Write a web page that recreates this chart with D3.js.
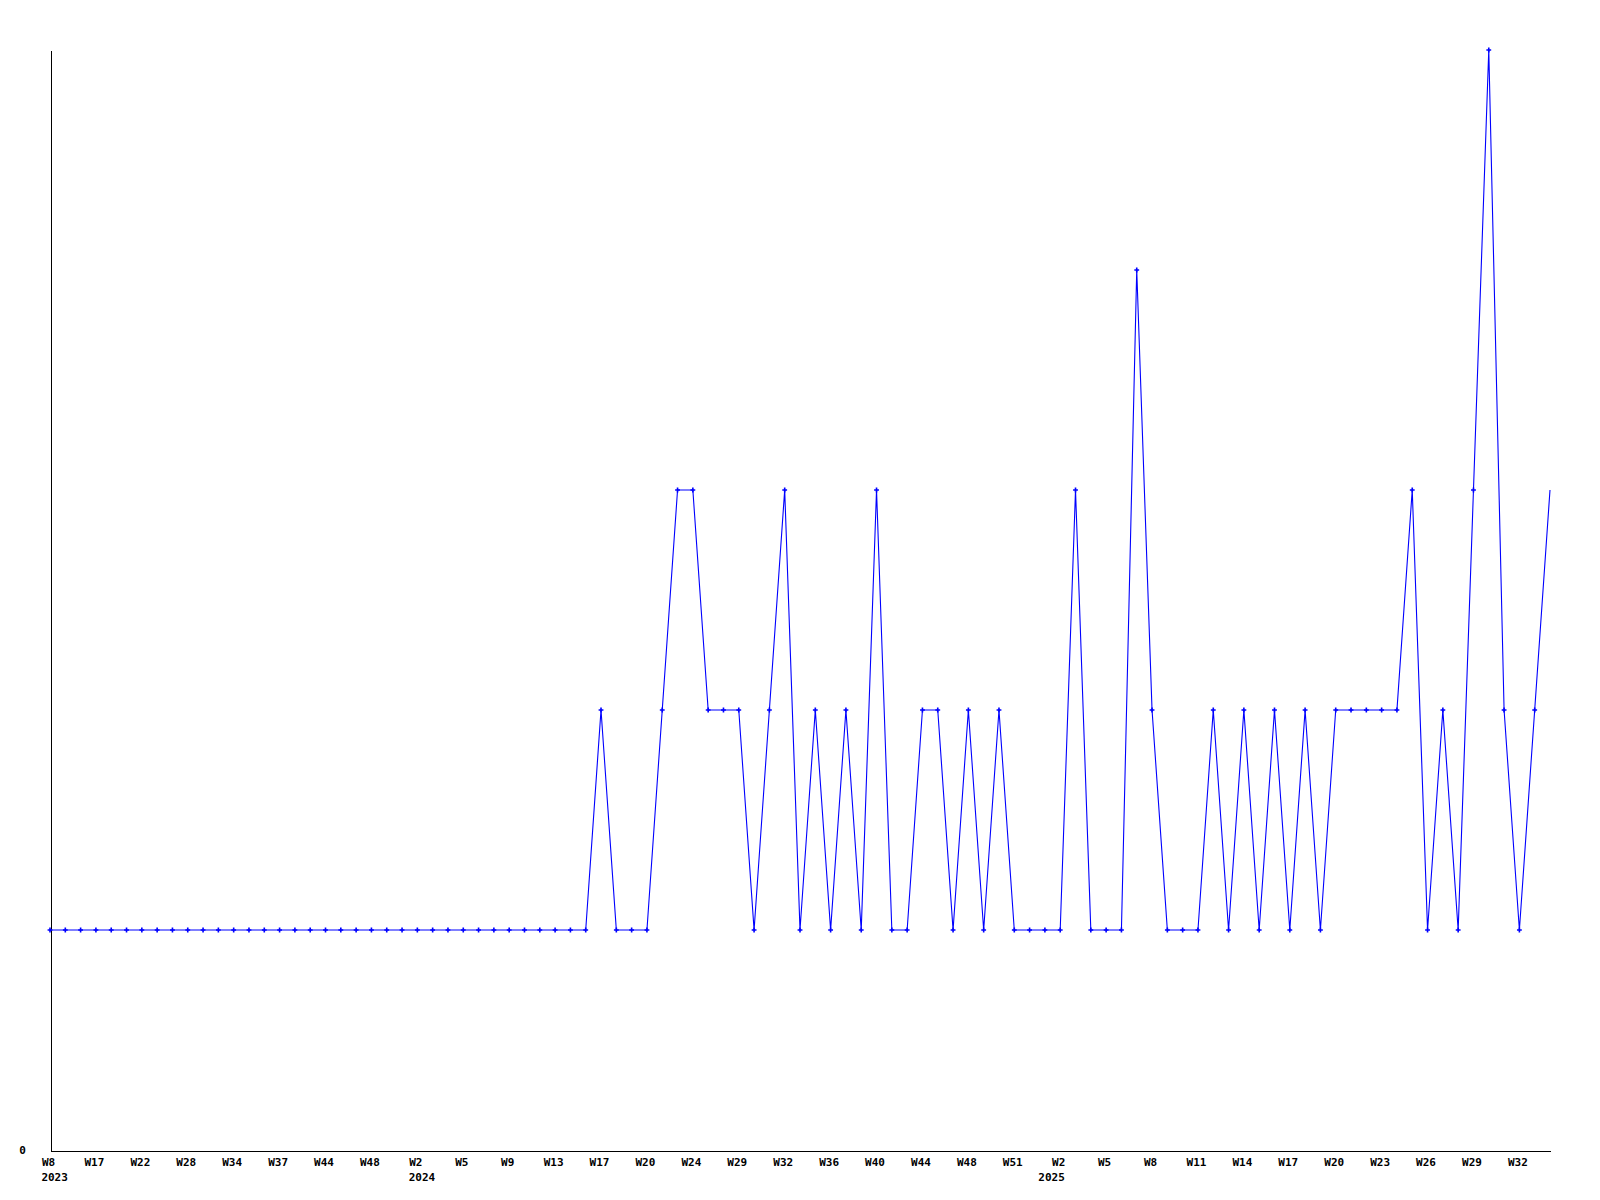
<!DOCTYPE html>
<html>
<head>
<meta charset="utf-8">
<script src="https://cdn.jsdelivr.net/npm/d3@7"></script>
<style>
  html, body { margin: 0; padding: 0; background: #fff; }
  svg { display: block; }
  .lbl { font-family: "DejaVu Sans Mono", monospace; font-weight: bold; font-size: 11px; fill: #000; }
</style>
</head>
<body>
<svg id="chart" width="1600" height="1200"></svg>
<script>
// ---- data ----
const tickLabels = ["W8","W17","W22","W28","W34","W37","W44","W48","W2","W5","W9",
  "W13","W17","W20","W24","W29","W32","W36","W40","W44","W48","W51",
  "W2","W5","W8","W11","W14","W17","W20","W23","W26","W29","W32"];
const yearTicks = [0, 8, 22];
const yearNames = ["2023", "2024", "2025"];
const values = [
  1,1,1,1,1,1,1,1,1,1,
  1,1,1,1,1,1,1,1,1,1,
  1,1,1,1,1,1,1,1,1,1,
  1,1,1,1,1,1,2,1,1,1,
  2,3,3,2,2,2,1,2,3,1,
  2,1,2,1,3,1,1,2,2,1,
  2,1,2,1,1,1,1,3,1,1,
  1,4,2,1,1,1,2,1,2,1,
  2,1,2,1,2,2,2,2,2,3,
  1,2,1,3,5,2,1,2,3
];
const yTicks = [0];
const ticksEvery = 3;

// ---- layout ----
const mLeft = 50, mRight = 1550, mTop = 50, mBottom = 1150;
const svg = d3.select("#chart");

const x = d3.scaleLinear().domain([0, values.length - 1]).range([mLeft, mRight]);
const y = d3.scaleLinear().domain([0, 5]).range([mBottom, mTop]);

// x axis
const xAxis = d3.axisBottom(x)
  .tickValues(tickLabels.map((d, i) => i * ticksEvery))
  .tickSize(0)
  .tickSizeOuter(0)
  .tickFormat(v => tickLabels[v / ticksEvery]);
const gx = svg.append("g").attr("transform", `translate(0,${mBottom + 0.5})`).call(xAxis);
gx.select(".domain").attr("stroke", "#000").attr("stroke-width", 1).attr("shape-rendering", "crispEdges");
gx.selectAll("text").attr("class", "lbl").attr("y", 15).attr("dy", 0).attr("dx", -2)
  .style("font-family", "'DejaVu Sans Mono', monospace").style("font-size", "11px").style("font-weight", "bold");

// year labels: aligned with the start of the week label, last one aligned with its end
const charW = 6.62;
svg.append("g").selectAll("text").data(yearNames).join("text")
  .attr("class", "lbl")
  .each(function (d, i) {
    const t = yearTicks[i];
    const cx = x(t * ticksEvery) - 2;
    const half = tickLabels[t].length * charW / 2;
    const last = i === yearNames.length - 1;
    d3.select(this)
      .attr("x", last ? cx + half : cx - half)
      .attr("text-anchor", last ? "end" : "start");
  })
  .attr("y", mBottom + 31)
  .text(d => d);

// y axis
const yAxis = d3.axisLeft(y).tickValues(yTicks).tickSize(0).tickSizeOuter(0).tickFormat(d3.format("d"));
const gy = svg.append("g").attr("transform", `translate(${mLeft + 0.5},0)`).call(yAxis);
gy.select(".domain").attr("stroke", "#000").attr("stroke-width", 1).attr("shape-rendering", "crispEdges");
gy.selectAll("text").attr("class", "lbl").attr("x", -28).attr("dy", "0.35em").attr("text-anchor", "middle")
  .style("font-family", "'DejaVu Sans Mono', monospace").style("font-size", "11px").style("font-weight", "bold");

// line
const line = d3.line().x((d, i) => x(i)).y(d => y(d));
svg.append("path")
  .datum(values)
  .attr("d", line)
  .attr("fill", "none")
  .attr("stroke", "#0000ff")
  .attr("stroke-width", 1.1);

// markers (last point drawn without a marker, as in the reference)
svg.append("g").selectAll("path")
  .data(values.map((v, i) => ({ v, i })).filter(d => d.i < values.length - 1))
  .join("path")
  .attr("transform", d => `translate(${x(d.i)},${y(d.v)})`)
  .attr("d", d3.symbol(d3.symbolCross, 13))
  .attr("fill", "#0000ff");
</script>
</body>
</html>
